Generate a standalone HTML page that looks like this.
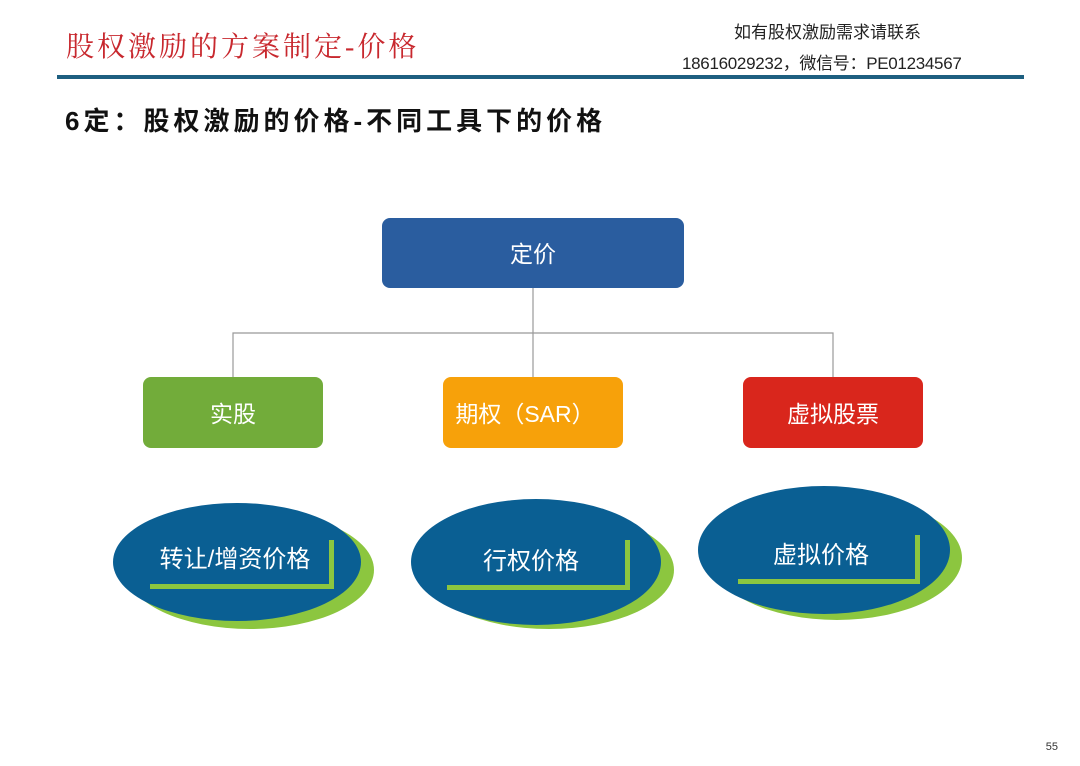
<!DOCTYPE html>
<html><head><meta charset="utf-8"><style>
body{margin:0;width:1080px;height:766px;background:#fff;position:relative;overflow:hidden;font-family:"Liberation Sans","Noto Sans CJK SC",sans-serif}
.a{position:absolute;white-space:nowrap}
</style></head><body>
<div class="a" style="left:66px;top:25px;font-size:28px;color:#c8282e;font-family:'Liberation Serif','Noto Serif CJK SC',serif;letter-spacing:3px">股权激励的方案制定-价格</div>
<div class="a" style="left:734px;top:18px;font-size:17px;color:#222">如有股权激励需求请联系</div>
<div class="a" style="left:682px;top:49px;font-size:17px;color:#222;letter-spacing:-0.3px">18616029232，微信号：PE01234567</div>
<div class="a" style="left:57px;top:75px;width:967px;height:4px;background:#1d5f80"></div>
<div class="a" style="left:65px;top:101px;font-size:26px;font-weight:bold;color:#111;letter-spacing:4px">6定：股权激励的价格-不同工具下的价格</div>
<div class="a" style="right:22px;top:741px;font-size:11px;color:#333">55</div>
<svg class="a" style="left:0;top:0" width="1080" height="766">
<g stroke="#999" stroke-width="1.2" fill="none">
<path d="M533 288V333M233 377V333H833V377M533 333V377"/>
</g>
<rect x="382" y="218" width="302" height="70" rx="8" fill="#2a5d9f"/>
<rect x="143" y="377" width="180" height="71" rx="8" fill="#72ac3a"/>
<rect x="443" y="377" width="180" height="71" rx="8" fill="#f7a10a"/>
<rect x="743" y="377" width="180" height="71" rx="8" fill="#d9261c"/>
<g font-size="23" fill="#fff" text-anchor="middle" font-family="Liberation Sans,Noto Sans CJK SC,sans-serif">
<text x="533" y="262">定价</text>
<text x="233" y="422">实股</text>
<text x="525" y="422">期权（SAR）</text>
<text x="833" y="422">虚拟股票</text>
</g>
<ellipse cx="250" cy="570" rx="124" ry="59" fill="#8cc63f"/>
<ellipse cx="237" cy="562" rx="124" ry="59" fill="#0a5f93"/>
<ellipse cx="549" cy="570" rx="125" ry="59" fill="#8cc63f"/>
<ellipse cx="536" cy="562" rx="125" ry="63" fill="#0a5f93"/>
<ellipse cx="837" cy="558" rx="125" ry="62" fill="#8cc63f"/>
<ellipse cx="824" cy="550" rx="126" ry="64" fill="#0a5f93"/>
<g fill="#8cc63f">
<rect x="329" y="540" width="5" height="49"/><rect x="150" y="584" width="184" height="5"/>
<rect x="625" y="540" width="5" height="50"/><rect x="447" y="585" width="183" height="5"/>
<rect x="915" y="535" width="5" height="49"/><rect x="738" y="579" width="182" height="5"/>
</g>
<g font-size="24" fill="#fff" text-anchor="middle" font-family="Liberation Sans,Noto Sans CJK SC,sans-serif">
<text x="235" y="567">转让/增资价格</text>
<text x="531" y="569">行权价格</text>
<text x="821" y="563">虚拟价格</text>
</g>
</svg>
</body></html>
